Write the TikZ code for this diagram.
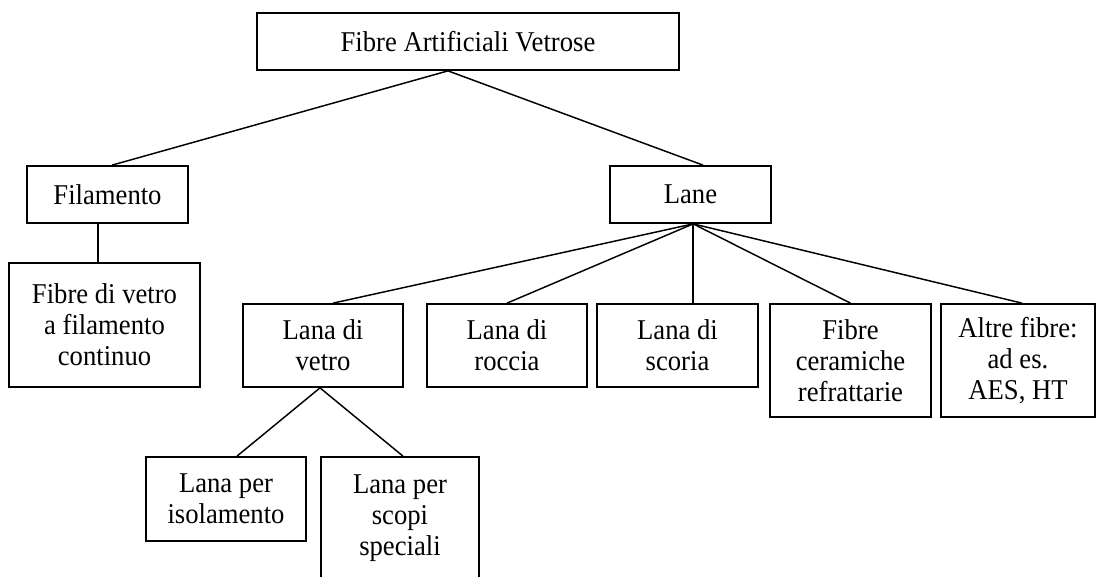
\documentclass[tikz,border=0pt]{standalone}
\usepackage{fontspec}
\setmainfont{Liberation Serif}[FakeStretch=0.93]

\begin{document}
\begin{tikzpicture}[x=0.75pt,y=0.75pt,yscale=-1,xscale=1,
	box/.style={draw, line width=1.3pt, align=center, inner sep=0pt, font=\fontsize{21.5}{23.25}\selectfont},
	link/.style={line width=1.1pt}]
		\useasboundingbox (0,0) rectangle (1096,576);

		% Boxes
		\node[box, minimum width=316.5pt, minimum height=42.75pt] (fav) at (468,41.5) {Fibre Artificiali Vetrose};
		\node[box, minimum width=120.75pt, minimum height=42.75pt] (fil) at (107.5,194.5) {Filamento};
		\node[box, minimum width=120.75pt, minimum height=42.75pt] (lane) at (690.5,194.5) {Lane};
		\node[box, minimum width=143.25pt, minimum height=93pt] (fvc) at (104.5,325) {Fibre di vetro\\a filamento\\continuo};

		\node[box, minimum width=120pt, minimum height=62.25pt] (ldv) at (323,345.5) {Lana di\\vetro};
		\node[box, minimum width=120pt, minimum height=62.25pt] (ldr) at (507,345.5) {Lana di\\roccia};
		\node[box, minimum width=120.75pt, minimum height=62.25pt] (lds) at (677.5,345.5) {Lana di\\scoria};
		\node[box, minimum width=120.75pt, minimum height=84.75pt] (fcr) at (850.5,360.5) {Fibre\\ceramiche\\refrattarie};
		\node[box, minimum width=115.5pt, minimum height=84.75pt] (alt) at (1018,360.5) {Altre fibre:\\ad es.\\AES, HT};

		\node[box, minimum width=120pt, minimum height=63pt] (lpi) at (226,499) {Lana per\\isolamento};
		\node[box, minimum width=118.5pt, minimum height=91.5pt] (lps) at (400,518) {Lana per\\scopi\\speciali};

		% Connectors
		\coordinate (favj) at ([xshift=-15pt]fav.south);
		\draw[link] (favj) -- ([xshift=3.4pt]fil.north);
		\draw[link] (favj) -- ([xshift=9.4pt]lane.north);

		\coordinate (filj) at ([xshift=-7pt]fil.south);
		\draw[link] (filj) -- (filj |- fvc.north);

		\coordinate (lanej) at ([xshift=2pt]lane.south);
		\draw[link] (lanej) -- ([xshift=7.5pt]ldv.north);
		\draw[link] (lanej) -- (ldr.north);
		\draw[link] (lanej) -- (lanej |- lds.north);
		\draw[link] (lanej) -- (fcr.north);
		\draw[link] (lanej) -- ([xshift=3pt]alt.north);

		\coordinate (ldvj) at ([xshift=-2.25pt]ldv.south);
		\draw[link] (ldvj) -- ([xshift=8.25pt]lpi.north);
		\draw[link] (ldvj) -- ([xshift=2.25pt]lps.north);

	\end{tikzpicture}
\end{document}
